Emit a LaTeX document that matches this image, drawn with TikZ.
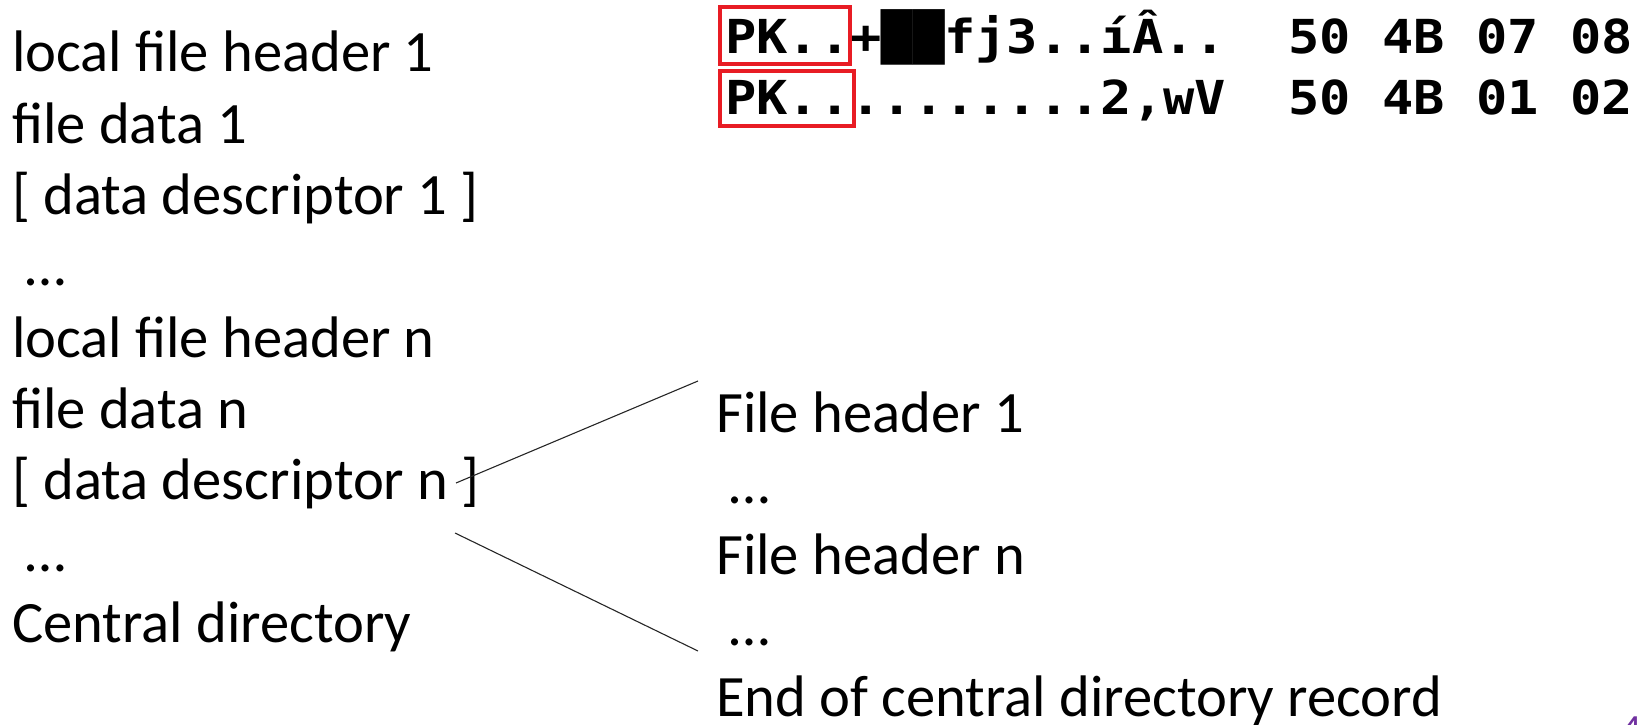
\documentclass[tikz,border=0pt]{standalone}
\usepackage{fontspec}
\usepackage{graphicx}
\setmainfont{Carlito}
\newfontfamily\hexfont{DejaVu Sans Mono}
\definecolor{boxred}{RGB}{232,28,36}
\definecolor{pagenum}{RGB}{112,48,160}
\begin{document}
\begin{tikzpicture}[x=1pt,y=-1pt,
  entry/.style={anchor=base west, inner sep=0pt, font=\fontsize{58.6}{70}\selectfont},
  hexrow/.style={anchor=base west, inner sep=0pt, font=\hexfont\bfseries\fontsize{52}{60}\selectfont},
  sigbox/.style={draw=boxred, line width=3.2pt},
  fan/.style={draw=black!85, line width=1.1pt}]
\useasboundingbox (0,0) rectangle (1647,725);

% hex dump of the two signatures
\node[hexrow] (hexA) at (725,54) {\scalebox{1}[0.9]{PK..+██fj3..íÂ..~~50~4B~07~08}};
\node[hexrow] (hexB) at (725,114) {\scalebox{1}[0.9]{PK..........2,wV~~50~4B~01~02}};
\draw[sigbox] (720,7) rectangle (850,64);
\draw[sigbox] (720,71) rectangle (854,126);

% archive layout
\node[entry] (l1) at (12,72)    {local file header 1};
\node[entry] (l2) at (12,143.3) {file data 1};
\node[entry] (l3) at (12,214.6) {[ data descriptor 1 ]};
\node[entry] (l4) at (12,285.9) {\ …};
\node[entry] (l5) at (12,357.2) {local file header n};
\node[entry] (l6) at (12,428.5) {file data n};
\node[entry] (l7) at (12,499.8) {[ data descriptor n ]};
\node[entry] (l8) at (12,571.1) {\ …};
\node[entry] (l9) at (12,642.4) {Central directory};

% central directory detail
\node[entry] (r1) at (716,432) {File header 1};
\node[entry] (r2) at (716,503) {\ …};
\node[entry] (r3) at (716,574) {File header n};
\node[entry] (r4) at (716,645) {\ …};
\node[entry] (r5) at (716,716) {End of central directory record};

% zoom-out lines
\coordinate (fanA) at (456,483);
\coordinate (fanB) at (455,533);
\coordinate (fanTop) at (698,381);
\coordinate (fanBot) at (698,651);
\draw[fan] (fanA) -- (fanTop);
\draw[fan] (fanB) -- (fanBot);

% slide number
\node[anchor=north west, inner sep=0pt, text=pagenum, font=\fontsize{40}{48}\selectfont] (pg) at (1621,717) {4};
\end{tikzpicture}
\end{document}
